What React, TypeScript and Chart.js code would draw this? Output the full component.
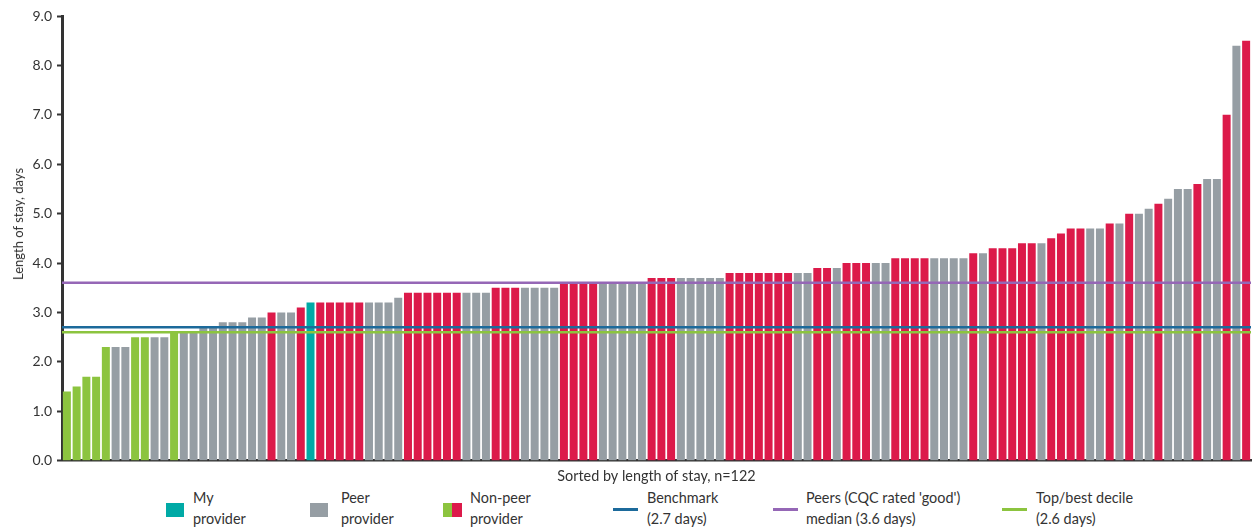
import React, { useEffect, useRef } from "react";
import { Chart, registerables } from "chart.js";

Chart.register(...registerables);

// Length of stay (days), sorted ascending, n = 122
const lengthOfStay: number[] = [
  1.4, 1.5, 1.7, 1.7, 2.3, 2.3, 2.3, 2.5, 2.5, 2.5,
  2.5, 2.6, 2.6, 2.6, 2.7, 2.7, 2.8, 2.8, 2.8, 2.9,
  2.9, 3.0, 3.0, 3.0, 3.1, 3.2, 3.2, 3.2, 3.2, 3.2,
  3.2, 3.2, 3.2, 3.2, 3.3, 3.4, 3.4, 3.4, 3.4, 3.4,
  3.4, 3.4, 3.4, 3.4, 3.5, 3.5, 3.5, 3.5, 3.5, 3.5,
  3.5, 3.6, 3.6, 3.6, 3.6, 3.6, 3.6, 3.6, 3.6, 3.6,
  3.7, 3.7, 3.7, 3.7, 3.7, 3.7, 3.7, 3.7, 3.8, 3.8,
  3.8, 3.8, 3.8, 3.8, 3.8, 3.8, 3.8, 3.9, 3.9, 3.9,
  4.0, 4.0, 4.0, 4.0, 4.0, 4.1, 4.1, 4.1, 4.1, 4.1,
  4.1, 4.1, 4.1, 4.2, 4.2, 4.3, 4.3, 4.3, 4.4, 4.4,
  4.4, 4.5, 4.6, 4.7, 4.7, 4.7, 4.7, 4.8, 4.8, 5.0,
  5.0, 5.1, 5.2, 5.3, 5.5, 5.5, 5.6, 5.7, 5.7, 7.0,
  8.4, 8.5,
];

// g = non-peer (top decile, green), r = non-peer (red), p = peer, m = my provider
const providerType: string[] = [
  "g", "g", "g", "g", "g", "p", "p", "g", "g", "p",
  "p", "g", "p", "p", "p", "p", "p", "p", "p", "p",
  "p", "r", "p", "p", "r", "m", "r", "r", "r", "r",
  "r", "p", "p", "p", "p", "r", "r", "r", "r", "r",
  "r", "p", "p", "p", "r", "r", "r", "p", "p", "p",
  "p", "r", "r", "r", "r", "p", "p", "p", "p", "p",
  "r", "r", "r", "p", "p", "p", "p", "p", "r", "r",
  "r", "r", "r", "r", "r", "p", "p", "r", "r", "p",
  "r", "r", "r", "p", "p", "r", "r", "r", "r", "p",
  "p", "p", "p", "r", "p", "r", "r", "r", "r", "r",
  "p", "r", "r", "r", "r", "p", "p", "r", "p", "r",
  "p", "p", "r", "p", "p", "p", "r", "p", "p", "r",
  "p", "r",
];

const benchmark = 2.7;
const peersMedian = 3.6;
const topDecile = 2.6;

const yTicks = [0, 1, 2, 3, 4, 5, 6, 7, 8, 9];

const COLORS: Record<string, string> = {
  g: "#8cc43f",
  r: "#dc1a4a",
  p: "#969ea4",
  m: "#00aaa6",
};
const BLUE = "#1c6a9b";
const PURPLE = "#9567b6";
const LGREEN = "#8cc43f";
const TEXT = "#333333";
const AXIS = "#333333";
const FONT = "Lato, 'Open Sans', sans-serif";

export default function App() {
  const ref = useRef<HTMLCanvasElement | null>(null);

  useEffect(() => {
    if (!ref.current) return;
    const labels = lengthOfStay.map((_, i) => String(i + 1));
    const refLine = (y: number, color: string) =>
      ({
        type: "line",
        data: [{ x: 0, y }, { x: 1, y }],
        xAxisID: "xl",
        yAxisID: "y",
        borderColor: color,
        borderWidth: 2.5,
        pointRadius: 0,
        order: 1,
      } as any);
    const chart = new Chart(ref.current, {
      data: {
        labels,
        datasets: [
          refLine(peersMedian, PURPLE),
          refLine(benchmark, BLUE),
          refLine(topDecile, LGREEN),
          {
            type: "bar",
            data: lengthOfStay,
            xAxisID: "x",
            yAxisID: "y",
            backgroundColor: providerType.map((t) => COLORS[t]),
            categoryPercentage: 1,
            barPercentage: 0.82,
            grouped: false,
            order: 2,
          } as any,
        ],
      },
      options: {
        animation: false,
        responsive: false,
        maintainAspectRatio: false,
        layout: { padding: { top: 16, right: 5, left: 0, bottom: 0 } },
        plugins: { legend: { display: false }, tooltip: { enabled: false } },
        scales: {
          x: {
            type: "category",
            offset: true,
            grid: { display: true, drawOnChartArea: false, drawTicks: false },
            border: { display: true, color: AXIS, width: 2.5 },
            ticks: { display: false },
            title: {
              display: true,
              text: "Sorted by length of stay, n=122",
              color: TEXT,
              font: { family: FONT, size: 14.4 },
              padding: { top: 7, bottom: 0 },
            },
          },
          xl: {
            type: "linear",
            display: false,
            min: 0,
            max: 1,
          },
          y: {
            type: "linear",
            min: 0,
            max: 9,
            afterBuildTicks: (scale: any) => {
              scale.ticks = yTicks.map((v) => ({ value: v }));
            },
            afterFit: (scale: any) => {
              scale.width = 62;
            },
            grid: {
              display: true,
              drawOnChartArea: false,
              drawTicks: true,
              tickLength: 5,
              tickColor: AXIS,
              tickWidth: 2,
            },
            border: { display: true, color: AXIS, width: 3 },
            ticks: {
              color: TEXT,
              font: { family: FONT, size: 14 },
              padding: 5,
              callback: (v: any) => Number(v).toFixed(1),
            },
            title: { display: false },
          },
        },
      },
    });
    return () => chart.destroy();
  }, []);

  const txt: React.CSSProperties = {
    position: "absolute",
    fontFamily: FONT,
    fontSize: 14.4,
    lineHeight: "21px",
    color: TEXT,
    whiteSpace: "nowrap",
    top: 487,
  };
  const sq = (left: number, color: string, w = 18): React.CSSProperties => ({
    position: "absolute",
    left,
    top: 503,
    width: w,
    height: 14,
    background: color,
  });
  const ln = (left: number, color: string): React.CSSProperties => ({
    position: "absolute",
    left,
    top: 508,
    width: 25,
    height: 3,
    background: color,
  });

  return (
    <div
      style={{
        position: "absolute",
        left: 0,
        top: 0,
        width: 1256,
        height: 527,
        background: "#fff",
        overflow: "hidden",
      }}
    >
      <canvas
        ref={ref}
        width={1256}
        height={485}
        style={{ position: "absolute", left: 0, top: 0, width: 1256, height: 485 }}
      />
      <div
        style={{
          position: "absolute",
          left: 18,
          top: 224,
          transform: "translate(-50%, -50%) rotate(-90deg)",
          fontFamily: FONT,
          fontSize: 13,
          lineHeight: "16px",
          color: TEXT,
          whiteSpace: "nowrap",
        }}
      >
        Length of stay, days
      </div>
      <div style={sq(166, COLORS.m)} />
      <div style={{ ...txt, left: 193 }}>My<br />provider</div>
      <div style={sq(310, COLORS.p)} />
      <div style={{ ...txt, left: 341 }}>Peer<br />provider</div>
      <div style={sq(443, COLORS.g, 9)} />
      <div style={sq(452, COLORS.r, 10)} />
      <div style={{ ...txt, left: 470 }}>Non-peer<br />provider</div>
      <div style={ln(613, BLUE)} />
      <div style={{ ...txt, left: 647 }}>Benchmark<br />(2.7 days)</div>
      <div style={ln(773, PURPLE)} />
      <div style={{ ...txt, left: 806 }}>Peers (CQC rated 'good')<br />median (3.6 days)</div>
      <div style={ln(1002, LGREEN)} />
      <div style={{ ...txt, left: 1036 }}>Top/best decile<br />(2.6 days)</div>
    </div>
  );
}
